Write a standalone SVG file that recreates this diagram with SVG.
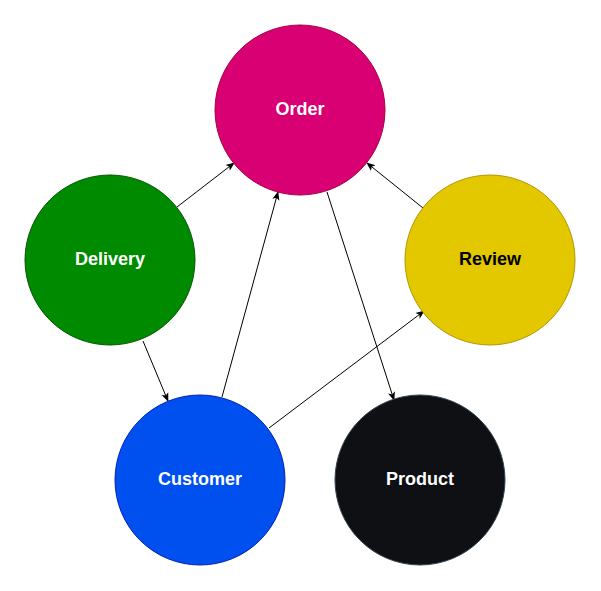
<svg xmlns="http://www.w3.org/2000/svg" width="601" height="591" viewBox="0 0 601 591">
<style>
.lbl{font-family:"Liberation Sans",Arial,sans-serif;font-weight:bold;font-size:18px;text-anchor:middle;dominant-baseline:central}
.edge{fill:none;stroke:#000;stroke-width:1;marker-end:url(#arr)}
</style>
<defs>
<marker id="arr" viewBox="0 0 10 10" refX="9" refY="5" markerWidth="9" markerHeight="9" markerUnits="userSpaceOnUse" orient="auto">
<path d="M0,1 L10,5 L0,9 L2.5,5 z" fill="#000"/>
</marker>
</defs>
<rect width="601" height="591" fill="#fff"/>
<g id="connectors">
<line class="edge" x1="177" y1="207" x2="234" y2="163"/>
<line class="edge" x1="423" y1="208" x2="367" y2="163"/>
<line class="edge" x1="143" y1="341" x2="168" y2="401"/>
<line class="edge" x1="327" y1="192" x2="394" y2="400"/>
<line class="edge" x1="222" y1="397" x2="278" y2="192"/>
<line class="edge" x1="269" y1="428" x2="424" y2="311"/>
</g>
<g id="order"><circle cx="300" cy="110" r="85" fill="#d80073" stroke="#a50040"/><text class="lbl" x="300" y="109" fill="#fff">Order</text></g>
<g id="delivery"><circle cx="110" cy="260" r="85" fill="#008a00" stroke="#005700"/><text class="lbl" x="110" y="259" fill="#fff">Delivery</text></g>
<g id="review"><circle cx="490" cy="260" r="85" fill="#e3c800" stroke="#b09500"/><text class="lbl" x="490" y="259" fill="#000">Review</text></g>
<g id="customer"><circle cx="200" cy="480" r="85" fill="#0050ef" stroke="#001dbc"/><text class="lbl" x="200" y="479" fill="#fff">Customer</text></g>
<g id="product"><circle cx="420" cy="480" r="85" fill="#0e1013" stroke="#314354"/><text class="lbl" x="420" y="479" fill="#fff">Product</text></g>
</svg>
